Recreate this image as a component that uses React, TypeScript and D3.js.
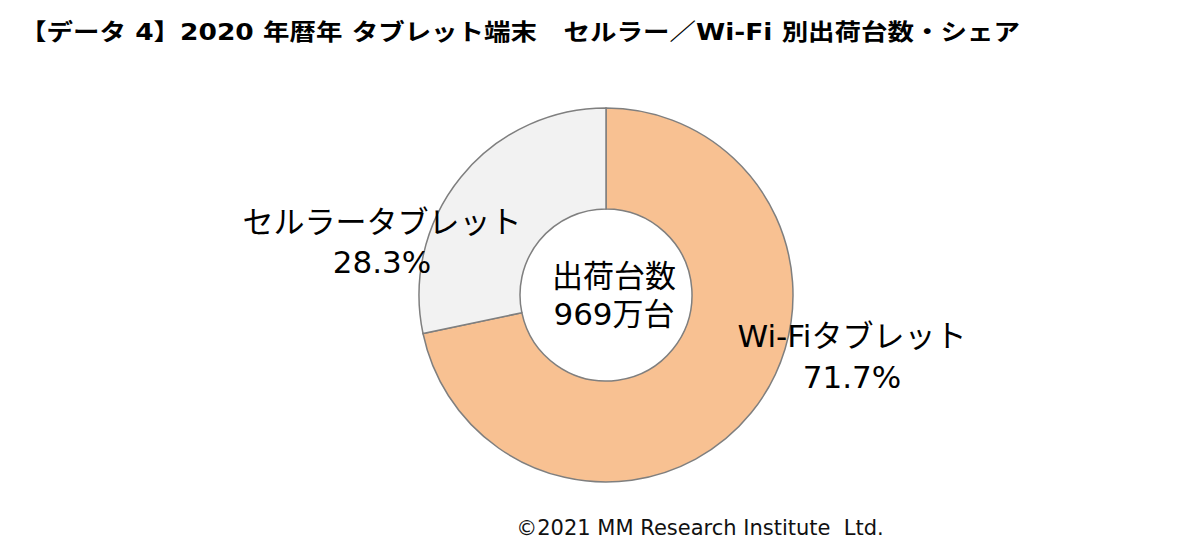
import React from "react";
import * as d3 from "d3";

const categories = ["Wi-Fiタブレット", "セルラータブレット"];
const shares = [71.7, 28.3];
const sliceColors = ["#F8C192", "#F2F2F2"];
const centerLines = ["出荷台数", "969万台"];
const title = "【データ 4】2020 年暦年 タブレット端末　セルラー／Wi-Fi 別出荷台数・シェア";
const credit = "©2021 MM Research Institute  Ltd.";

const W = 1200;
const H = 557;
const cx = 606;
const cy = 295;
const outerR = 187;
const innerR = 86;
const FONT = "'DejaVu Sans', 'Noto Sans CJK JP', sans-serif";

export default function App() {
  const pie = d3
    .pie<number>()
    .sort(null)
    .value((d) => d);
  const arcs = pie(shares);
  const arc = d3.arc<d3.PieArcDatum<number>>().innerRadius(innerR).outerRadius(outerR);

  const labelPos = [
    { x: 852, y1: 347, y2: 388 },
    { x: 382, y1: 233, y2: 273 },
  ];

  return (
    <svg width={W} height={H} style={{ position: "absolute", left: 0, top: 0, background: "#fff" }}>
      <rect width={W} height={H} fill="#fff" />
      <text
        x={20}
        y={40}
        fontFamily={FONT}
        fontWeight="bold"
        fontSize={23}
        fill="#000"
        textLength={1000}
        lengthAdjust="spacingAndGlyphs"
      >
        {title}
      </text>
      <g transform={`translate(${cx},${cy})`}>
        {arcs.map((a, i) => (
          <path key={i} d={arc(a) || ""} fill={sliceColors[i]} stroke="#7F7F7F" strokeWidth={1.5} />
        ))}
      </g>
      {categories.map((c, i) => (
        <text key={c} fontFamily={FONT} fontSize={31} fill="#000" textAnchor="middle">
          <tspan x={labelPos[i].x} y={labelPos[i].y1}>{c}</tspan>
          <tspan x={labelPos[i].x} y={labelPos[i].y2}>{d3.format(".1f")(shares[i])}%</tspan>
        </text>
      ))}
      <text fontFamily={FONT} fontSize={31} fill="#000" textAnchor="middle">
        <tspan x={cx + 8} y={287}>{centerLines[0]}</tspan>
        <tspan x={cx + 8} y={325}>{centerLines[1]}</tspan>
      </text>
      <text
        x={700}
        y={535}
        fontFamily={FONT}
        fontSize={21}
        fill="#111"
        textAnchor="middle"
        style={{ whiteSpace: "pre" }}
      >
        {credit}
      </text>
    </svg>
  );
}
